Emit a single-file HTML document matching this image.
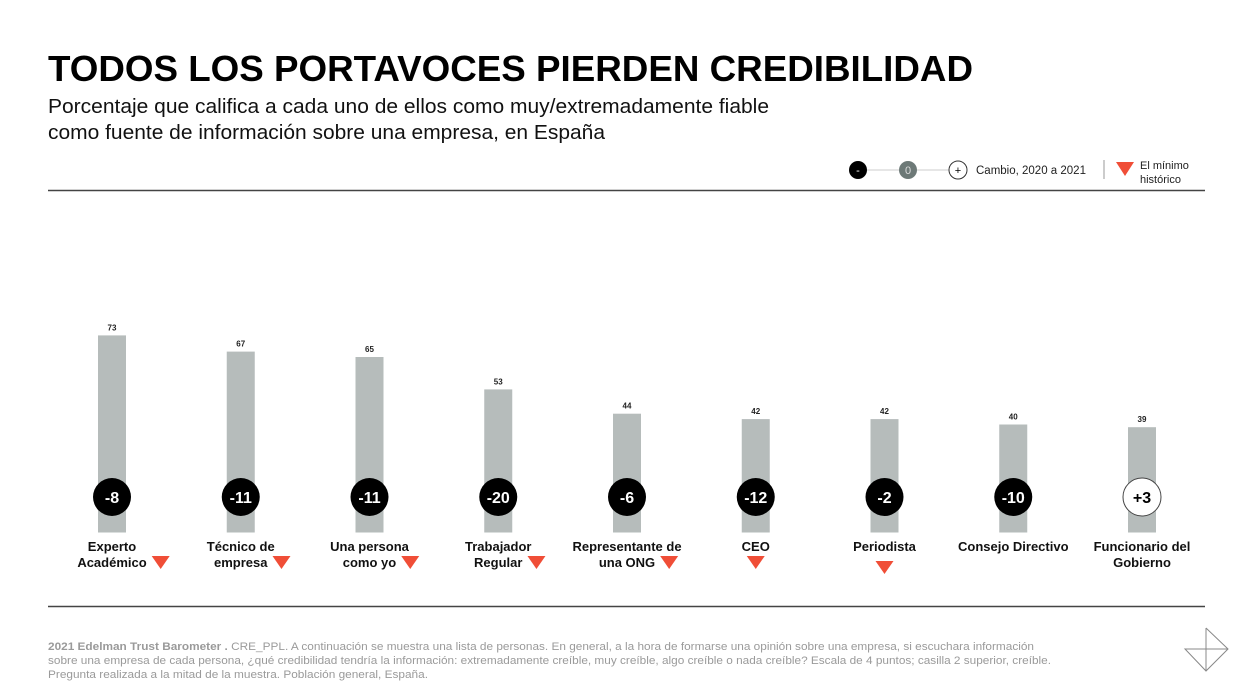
<!DOCTYPE html>
<html><head><meta charset="utf-8">
<style>
html,body{margin:0;padding:0;background:#fff;}
svg{display:block;font-family:"Liberation Sans",Arial,sans-serif;}
</style></head>
<body>
<svg id="chart" width="1251" height="698" viewBox="0 0 1251 698">
  <text x="48" y="81" font-size="36" font-weight="bold" fill="#000" textLength="925" lengthAdjust="spacingAndGlyphs">TODOS LOS PORTAVOCES PIERDEN CREDIBILIDAD</text>
  <text x="48" y="113" font-size="20" fill="#111" textLength="721" lengthAdjust="spacingAndGlyphs">Porcentaje que califica a cada uno de ellos como muy/extremadamente fiable</text>
  <text x="48" y="139" font-size="20" fill="#111" textLength="557" lengthAdjust="spacingAndGlyphs">como fuente de información sobre una empresa, en España</text>

  <g>
    <line x1="858" y1="170" x2="958" y2="170" stroke="#ccc" stroke-width="1"/>
    <circle cx="858" cy="170" r="9" fill="#000"/>
    <text x="858" y="174" font-size="11" fill="#fff" text-anchor="middle">-</text>
    <circle cx="908" cy="170" r="9" fill="#6d7977"/>
    <text x="908" y="174" font-size="11" fill="#ddd" text-anchor="middle">0</text>
    <circle cx="958" cy="170" r="9" fill="#fff" stroke="#333" stroke-width="1"/>
    <text x="958" y="174" font-size="11" fill="#000" text-anchor="middle">+</text>
    <text x="976" y="174" font-size="11.5" fill="#222">Cambio, 2020 a 2021</text>
    <line x1="1104" y1="160" x2="1104" y2="179" stroke="#999" stroke-width="1"/>
    <polygon points="1116,162 1134,162 1125,176" fill="#f04e37"/>
    <text x="1140" y="169" font-size="11" fill="#222">El mínimo</text>
    <text x="1140" y="183" font-size="11" fill="#222">histórico</text>
  </g>

  <line x1="48" y1="190.5" x2="1205" y2="190.5" stroke="#444" stroke-width="1.5"/>
  <line x1="48" y1="606.5" x2="1205" y2="606.5" stroke="#444" stroke-width="1.5"/>
  <g id="bars"></g>

  <g font-size="11" fill="#9a9a9a">
    <text x="48" y="650" textLength="986" lengthAdjust="spacingAndGlyphs"><tspan font-weight="bold">2021 Edelman Trust Barometer .</tspan> CRE_PPL. A continuación se muestra una lista de personas. En general, a la hora de formarse una opinión sobre una empresa, si escuchara información</text>
    <text x="48" y="664" textLength="1003" lengthAdjust="spacingAndGlyphs">sobre una empresa de cada persona, ¿qué credibilidad tendría la información: extremadamente creíble, muy creíble, algo creíble o nada creíble? Escala de 4 puntos; casilla 2 superior, creíble.</text>
    <text x="48" y="678" textLength="380" lengthAdjust="spacingAndGlyphs">Pregunta realizada a la mitad de la muestra. Población general, España.</text>
  </g>
  <g stroke="#888" stroke-width="1" fill="none">
    <polyline points="1206,628 1228,649 1206,671 1185,649 1228,649"/>
    <line x1="1206" y1="628" x2="1206" y2="671"/>
  </g>
</svg>
<script>
const categories = [["Experto","Académico"],["Técnico de","empresa"],["Una persona","como yo"],["Trabajador","Regular"],["Representante de","una ONG"],["CEO"],["Periodista"],["Consejo Directivo"],["Funcionario del","Gobierno"]];
const values = [73,67,65,53,44,42,42,40,39];
const changes = [-8,-11,-11,-20,-6,-12,-2,-10,3];
const recordLow = [true,true,true,true,true,true,true,false,false];

const NS = "http://www.w3.org/2000/svg";
const g = document.getElementById("bars");
const x0 = 112, step = 128.75, base = 532.5, scale = 2.7, bw = 28;
function xPos(i){ return x0 + i*step; }
function yPos(v){ return base - v*scale; }
function mk(tag, attrs, parent){ const e=document.createElementNS(NS,tag); for(const k in attrs) e.setAttribute(k,attrs[k]); (parent||g).appendChild(e); return e; }

categories.forEach((cat,i)=>{
  const cx = xPos(i);
  const bar = mk("rect",{x:cx-bw/2,y:yPos(values[i]),width:bw,height:base-yPos(values[i]),fill:"#b6bcbb"});
  
  
  const vl = mk("text",{x:cx,y:yPos(values[i])-5,"font-size":"8","font-weight":"bold","text-anchor":"middle",fill:"#222"});
  vl.textContent = values[i];
  
  
  const pos = changes[i] > 0;
  const c = mk("circle",{cx:cx,cy:497,r:19,fill:pos?"#fff":"#000",stroke:pos?"#444":"none","stroke-width":1});
  
  
  const ct = mk("text",{x:cx,y:503,"font-size":"16","font-weight":"bold","text-anchor":"middle",fill:pos?"#000":"#fff"});
  ct.textContent = (pos?"+":"")+changes[i];
  
  
  const lab = mk("text",{x:cx,y:551,"font-size":"13","font-weight":"bold","text-anchor":"middle",fill:"#111"});
  
  
  cat.forEach((line,j)=>{ const t=mk("tspan",{x:cx,dy:j?16:0},lab); t.textContent=line; });
  if(recordLow[i]){
    let tx, ty;
    if(cat.length===1){ tx=cx; ty=cat[0]==="CEO"?556:561; }
    else { const last = lab.lastChild.getComputedTextLength(); tx = cx + last/2 + 14; ty = 556; }
    const tri = mk("polygon",{points:`${tx-9},${ty} ${tx+9},${ty} ${tx},${ty+13}`,fill:"#f04e37"});
    
    
  }
});
</script>
</body></html>
